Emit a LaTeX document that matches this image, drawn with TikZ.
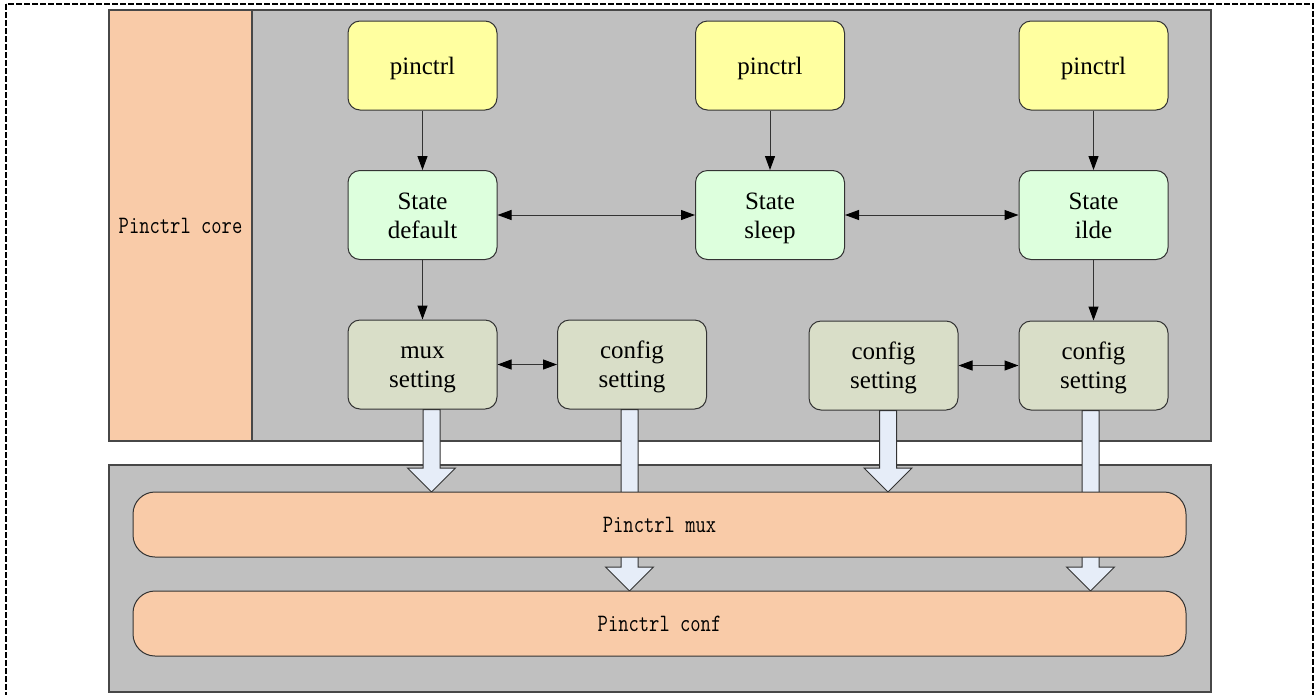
\documentclass[tikz,border=0pt]{standalone}
\usepackage{fontspec}
\setmainfont{Liberation Serif}
\newfontfamily\boxfont{Liberation Serif}
\usetikzlibrary{arrows.meta,calc}
\definecolor{bggrey}{HTML}{C0C0C0}
\definecolor{peach}{HTML}{F9CBA8}
\definecolor{pyellow}{HTML}{FFFFA0}
\definecolor{pgreen}{HTML}{DDFFDD}
\definecolor{psage}{HTML}{D9DEC8}
\definecolor{parrow}{HTML}{E6EDF8}
\definecolor{edge}{HTML}{333333}
\newcommand\blockarrow[2]{%
  \draw[barrow] let \p1=(#1), \p2=(#2) in
    (\x1-8.5pt,\y1) -- (\x1+8.5pt,\y1) -- (\x1+8.5pt,\y2+24pt) -- (\x1+24pt,\y2+24pt)
    -- (\x1,\y2) -- (\x1-24pt,\y2+24pt) -- (\x1-8.5pt,\y2+24pt) -- cycle;}
\newcommand\monotext[1]{\scalebox{1}[1.25]{\ttfamily\fontsize{20}{24}\selectfont #1}}
\newcommand\twol[2]{\raisebox{-3pt}[\height][\depth]{\begin{tabular}{@{}c@{}}\strut #1\\\strut #2\end{tabular}}}
\newcommand\onel[1]{\raisebox{-3.5pt}[\height][\depth]{\strut #1}}
\begin{document}
\begin{tikzpicture}[x=1pt,y=-1pt,
  panel/.style={draw=edge!90!white,line width=1.2pt,fill=bggrey},
  box/.style={draw=edge,line width=1pt,rounded corners=12pt,minimum width=149pt,minimum height=89pt,
    align=center,font=\boxfont\fontsize{25}{29}\selectfont,inner sep=0pt},
  ybox/.style={box,fill=pyellow},
  gbox/.style={box,fill=pgreen},
  sbox/.style={box,fill=psage},
  band/.style={draw=edge,line width=1pt,fill=peach,rounded corners=22pt,minimum width=1053pt,minimum height=65pt},
  thin/.style={draw=edge,line width=1pt,-{Triangle[length=14pt,width=10pt,color=black]}},
  thinboth/.style={draw=edge,line width=1pt,{Triangle[length=14pt,width=10pt,color=black]}-{Triangle[length=14pt,width=10pt,color=black]}},
  barrow/.style={draw=edge,line width=1pt,fill=parrow,line join=miter}]
\useasboundingbox (0,0) rectangle (1316,694);
% outer dashed frame
\draw[line width=1.8pt,dash pattern=on 6pt off 2pt] (6,4) rectangle (1313,705);
% top panel
\draw[panel] (109,10) rectangle (1211,441);
\node[draw=edge!90!white,line width=1.2pt,fill=peach,minimum width=143pt,minimum height=431pt,inner sep=0pt] (core) at (180.5,225.5) {\monotext{Pinctrl core}};
% bottom panel
\draw[panel] (109,465) rectangle (1211,692);
% nodes
\node[ybox] (p1) at (422.5,65.5) {\onel{pinctrl}};
\node[ybox] (p2) at (770,65.5) {\onel{pinctrl}};
\node[ybox] (p3) at (1093.5,65.5) {\onel{pinctrl}};
\node[gbox] (s1) at (422.5,215) {\twol{State}{default}};
\node[gbox] (s2) at (770,215) {\twol{State}{sleep}};
\node[gbox] (s3) at (1093.5,215) {\twol{State}{ilde}};
\node[sbox] (m1) at (422.5,364.5) {\twol{mux}{setting}};
\node[sbox] (c1) at (632,364.5) {\twol{config}{setting}};
\node[sbox] (c2) at (883.5,365.5) {\twol{config}{setting}};
\node[sbox] (c3) at (1093.5,365.5) {\twol{config}{setting}};
% thin connectors
\draw[thin] (p1) -- (s1);
\draw[thin] (p2) -- (s2);
\draw[thin] (p3) -- (s3);
\draw[thin] (s1) -- (m1);
\draw[thin] (s3) -- (c3);
\draw[thinboth] (s1) -- (s2);
\draw[thinboth] (s2) -- (s3);
\draw[thinboth] (m1) -- (c1);
\draw[thinboth] (c2) -- (c3);
% band positions (coordinates for the arrows)
\coordinate (muxtop) at (659.5,492);
\coordinate (conftop) at (659.5,591);
\coordinate (a1s) at ($(m1.south)+(9,0)$);
\coordinate (a2s) at ($(c1.south)+(-2.5,0)$);
\coordinate (a3s) at ($(c2.south)+(4.5,0)$);
\coordinate (a4s) at ($(c3.south)+(-3,0)$);
\blockarrow{a1s}{a1s |- muxtop}
\blockarrow{a2s}{a2s |- conftop}
\blockarrow{a3s}{a3s |- muxtop}
\blockarrow{a4s}{a4s |- conftop}
% bands
\node[band] (mux) at (659.5,524.5) {\monotext{Pinctrl mux}};
\node[band] (conf) at (659.5,623.5) {\monotext{Pinctrl conf}};
\end{tikzpicture}
\end{document}
